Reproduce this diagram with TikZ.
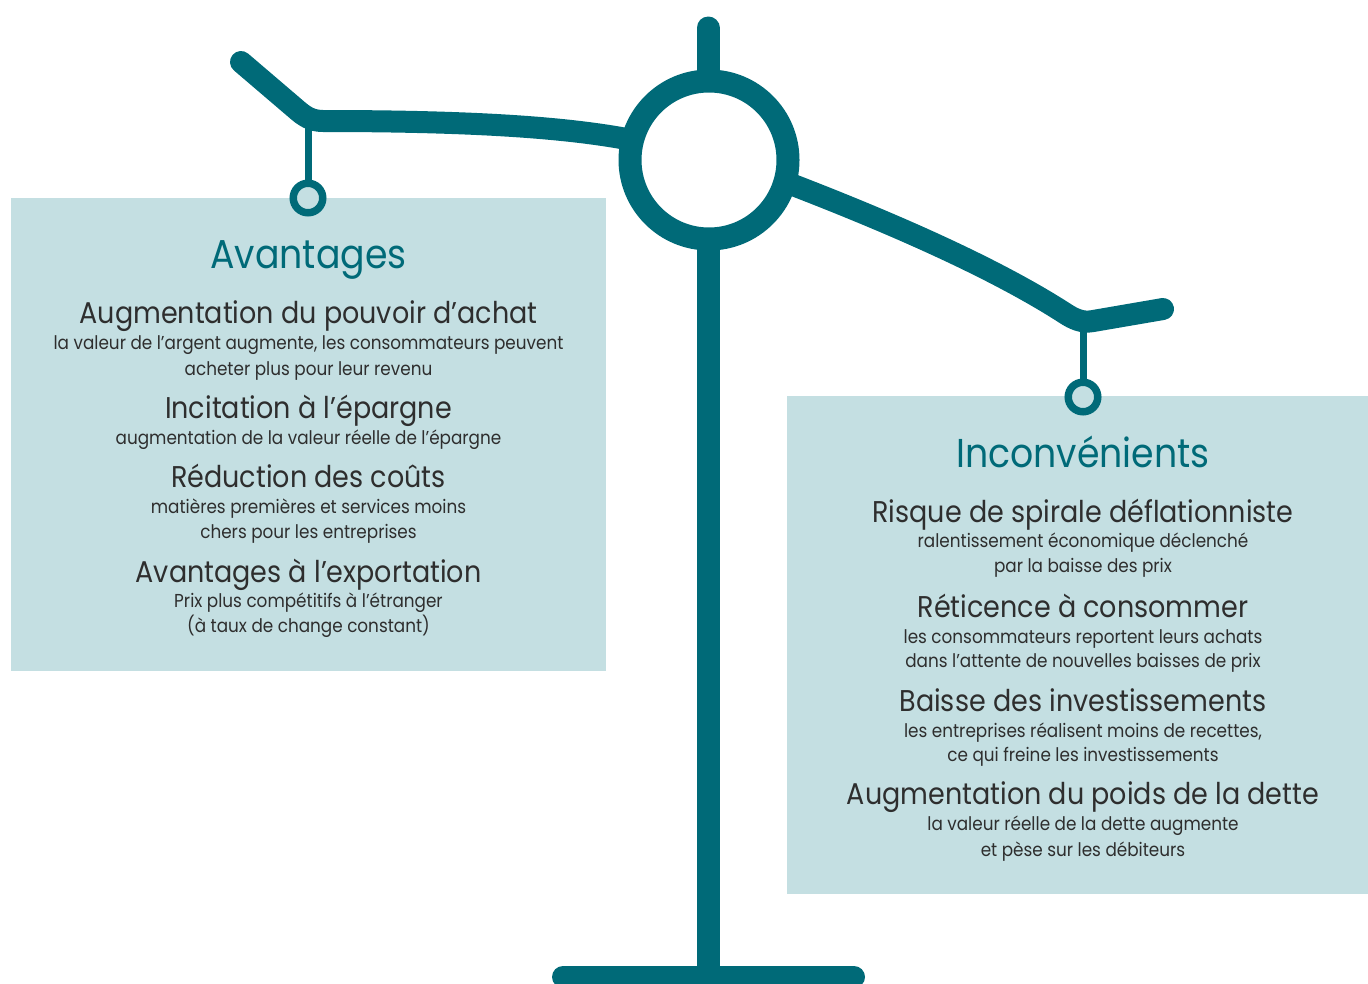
\documentclass[tikz,border=0pt]{standalone}
\usepackage{fontspec}
\setmainfont{Poppins}[FakeStretch=0.9]
\definecolor{scaleteal}{HTML}{006A78}
\definecolor{panel}{HTML}{C4DFE2}
\definecolor{ink}{HTML}{2E2E2E}

\tikzset{
  beam/.style={draw=scaleteal, line width=22pt, line cap=round, line join=round},
  hookline/.style={draw=scaleteal, line width=7pt},
  hookring/.style={draw=scaleteal, line width=7.5pt, fill=panel},
  paneltitle/.style={font=\fontsize{40.3}{48}\selectfont, text=scaleteal, anchor=base, inner sep=0pt},
  itemhead/.style={font=\fontsize{30}{36}\selectfont, text=ink, anchor=base, inner sep=0pt},
  itemdesc/.style={font=\fontsize{18.7}{22}\selectfont, text=ink, anchor=base, inner sep=0pt},
}

\begin{document}
\begin{tikzpicture}[x=1pt, y=-1pt]
\useasboundingbox (0,0) rectangle (1368,983);

% panels
\fill[panel] (11,198) rectangle (606,671);
\fill[panel] (787,396) rectangle (1368,894);

% beam arms
\draw[beam] (241,62) -- (296,109) .. controls (304,116) and (311,121) .. (323,121)
  .. controls (480,121) and (570,128) .. (632,140);
\draw[beam] (780,180) .. controls (890,222) and (995,268) .. (1066,314)
  .. controls (1073,318.5) and (1082,323) .. (1092,321.2) -- (1163,309);

% post and foot
\draw[beam, line width=23pt] (708,28) -- (708,977);
\draw[beam] (563,977) -- (854,977);

% pivot ring
\draw[draw=scaleteal, line width=23pt, fill=white] (709,160) circle[radius=79];

% hangers
\draw[hookline] (308,121) -- (308,190);
\draw[hookring] (308,198) circle[radius=14.75];
\draw[hookline] (1083,323) -- (1083,389);
\draw[hookring] (1083,397) circle[radius=14.75];

% left panel text
\node[paneltitle] (lt) at (308.5,268) {Avantages};
\node[itemhead] (l1h) at (308.5,323) {Augmentation du pouvoir d’achat};
\node[itemdesc] (l1a) at (308.5,349) {la valeur de l’argent augmente, les consommateurs peuvent};
\node[itemdesc] (l1b) at (308.5,375) {acheter plus pour leur revenu};
\node[itemhead] (l2h) at (308.5,418) {Incitation à l’épargne};
\node[itemdesc] (l2a) at (308.5,444) {augmentation de la valeur réelle de l’épargne};
\node[itemhead] (l3h) at (308.5,487) {Réduction des coûts};
\node[itemdesc] (l3a) at (308.5,513) {matières premières et services moins};
\node[itemdesc] (l3b) at (308.5,538) {chers pour les entreprises};
\node[itemhead] (l4h) at (308.5,582) {Avantages à l’exportation};
\node[itemdesc] (l4a) at (308.5,607) {Prix plus compétitifs à l’étranger};
\node[itemdesc] (l4b) at (308.5,632) {(à taux de change constant)};

% right panel text
\node[paneltitle] (rt) at (1083,467) {Inconvénients};
\node[itemhead] (r1h) at (1083,522) {Risque de spirale déflationniste};
\node[itemdesc] (r1a) at (1083,547) {ralentissement économique déclenché};
\node[itemdesc] (r1b) at (1083,572) {par la baisse des prix};
\node[itemhead] (r2h) at (1083,617) {Réticence à consommer};
\node[itemdesc] (r2a) at (1083,643) {les consommateurs reportent leurs achats};
\node[itemdesc] (r2b) at (1083,667) {dans l’attente de nouvelles baisses de prix};
\node[itemhead] (r3h) at (1083,711) {Baisse des investissements};
\node[itemdesc] (r3a) at (1083,737) {les entreprises réalisent moins de recettes,};
\node[itemdesc] (r3b) at (1083,761) {ce qui freine les investissements};
\node[itemhead] (r4h) at (1083,804) {Augmentation du poids de la dette};
\node[itemdesc] (r4a) at (1083,830) {la valeur réelle de la dette augmente};
\node[itemdesc] (r4b) at (1083,856) {et pèse sur les débiteurs};
\end{tikzpicture}
\end{document}
